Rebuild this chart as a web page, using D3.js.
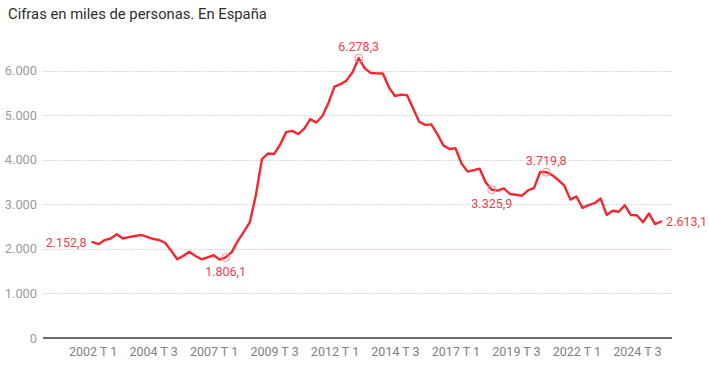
<!DOCTYPE html>
<html>
<head>
<meta charset="utf-8">
<script src="https://cdn.jsdelivr.net/npm/d3@7"></script>
<style>
  html, body { margin: 0; padding: 0; background: #fff; }
  body { width: 709px; height: 374px; overflow: hidden; font-family: Roboto, "Noto Sans", sans-serif; }
</style>
</head>
<body>
<div id="chart"></div>
<script>
// Parados EPA, miles de personas (2002 T 1 - 2025 T 3)
const quarters = [
  "2002 T 1", "2002 T 2", "2002 T 3", "2002 T 4",
  "2003 T 1", "2003 T 2", "2003 T 3", "2003 T 4",
  "2004 T 1", "2004 T 2", "2004 T 3", "2004 T 4",
  "2005 T 1", "2005 T 2", "2005 T 3", "2005 T 4",
  "2006 T 1", "2006 T 2", "2006 T 3", "2006 T 4",
  "2007 T 1", "2007 T 2", "2007 T 3", "2007 T 4",
  "2008 T 1", "2008 T 2", "2008 T 3", "2008 T 4",
  "2009 T 1", "2009 T 2", "2009 T 3", "2009 T 4",
  "2010 T 1", "2010 T 2", "2010 T 3", "2010 T 4",
  "2011 T 1", "2011 T 2", "2011 T 3", "2011 T 4",
  "2012 T 1", "2012 T 2", "2012 T 3", "2012 T 4",
  "2013 T 1", "2013 T 2", "2013 T 3", "2013 T 4",
  "2014 T 1", "2014 T 2", "2014 T 3", "2014 T 4",
  "2015 T 1", "2015 T 2", "2015 T 3", "2015 T 4",
  "2016 T 1", "2016 T 2", "2016 T 3", "2016 T 4",
  "2017 T 1", "2017 T 2", "2017 T 3", "2017 T 4",
  "2018 T 1", "2018 T 2", "2018 T 3", "2018 T 4",
  "2019 T 1", "2019 T 2", "2019 T 3", "2019 T 4",
  "2020 T 1", "2020 T 2", "2020 T 3", "2020 T 4",
  "2021 T 1", "2021 T 2", "2021 T 3", "2021 T 4",
  "2022 T 1", "2022 T 2", "2022 T 3", "2022 T 4",
  "2023 T 1", "2023 T 2", "2023 T 3", "2023 T 4",
  "2024 T 1", "2024 T 2", "2024 T 3", "2024 T 4",
  "2025 T 1", "2025 T 2", "2025 T 3"
];

const values = [
  2152.8, 2103.3, 2196.0, 2232.4,
  2328.5, 2232.4, 2261.8, 2287.6,
  2313.3, 2268.9, 2224.2, 2197.3,
  2136.6, 1959.3, 1765.0, 1841.3,
  1935.8, 1837.8, 1765.0, 1810.6,
  1856.1, 1760.0, 1806.1, 1927.6,
  2174.2, 2381.5, 2598.8, 3207.9,
  4010.7, 4137.5, 4123.3, 4335.0,
  4617.7, 4645.5, 4574.7, 4696.6,
  4910.2, 4833.7, 4978.3, 5273.6,
  5639.5, 5693.1, 5778.1, 5965.4,
  6278.3, 6047.3, 5943.4, 5935.6,
  5933.3, 5622.9, 5427.7, 5457.7,
  5444.6, 5149.0, 4850.8, 4779.5,
  4791.4, 4574.7, 4320.8, 4237.8,
  4255.0, 3914.3, 3731.7, 3766.7,
  3796.1, 3490.3, 3325.9, 3304.3,
  3354.2, 3230.6, 3214.4, 3191.9,
  3313.0, 3368.0, 3722.9, 3719.8,
  3653.9, 3543.8, 3416.7, 3103.8,
  3174.7, 2919.4, 2980.2, 3024.0,
  3127.8, 2760.5, 2855.2, 2830.6,
  2977.9, 2755.6, 2754.4, 2595.5,
  2791.4, 2554.3, 2613.1
];

const xTickLabels = ["2002 T 1", "2004 T 3", "2007 T 1", "2009 T 3", "2012 T 1",
  "2014 T 3", "2017 T 1", "2019 T 3", "2022 T 1", "2024 T 3"];
const yTicks = [0, 1000, 2000, 3000, 4000, 5000, 6000];

// annotated points: quarter, label side, circle or not
const annotations = [
  { q: "2002 T 1", pos: "left", dot: false },
  { q: "2007 T 3", pos: "below", dot: true },
  { q: "2013 T 1", pos: "above", dot: true },
  { q: "2018 T 3", pos: "below", dot: true },
  { q: "2020 T 4", pos: "above", dot: true },
  { q: "2025 T 3", pos: "right", dot: false }
];

const title = "Cifras en miles de personas. En España";

// Sizes
const width = 709;
const height = 374;
const marginLeft = 43;
const marginRight = 37;
const marginTop = 70.5;
const marginBottom = 36;
const lineColor = "#f4262f";
const labelColor = "#ee3d4b";

const locale = d3.formatLocale({ decimal: ",", thousands: ".", grouping: [3], currency: ["", " €"] });
const fmtTick = locale.format(",.0f");
const fmtVal = locale.format(",.1f");

const data = quarters.map((q, i) => ({ q, i, v: values[i] }));

// quarters before the first and after the last point kept as empty space
const x = d3.scaleLinear()
  .domain([-8.2, quarters.length - 1 + 1.8])
  .range([marginLeft, width - marginRight]);
const y = d3.scaleLinear()
  .domain([0, 6000])
  .range([height - marginBottom, marginTop]);

const svg = d3.select("#chart")
  .append("svg")
  .attr("width", width)
  .attr("height", height)
  .attr("viewBox", [0, 0, width, height])
  .style("font-family", "Roboto, sans-serif");

// Title
svg.append("text")
  .attr("x", 8)
  .attr("y", 19)
  .attr("fill", "#2e2e2e")
  .style("font-size", "14.8px")
  .text(title);

// Grid lines (dotted)
svg.append("g")
  .selectAll("line")
  .data(yTicks.filter(d => d > 0))
  .join("line")
  .attr("x1", marginLeft)
  .attr("x2", width - marginRight)
  .attr("y1", d => Math.round(y(d)) + 0.5)
  .attr("y2", d => Math.round(y(d)) + 0.5)
  .attr("stroke", "#cfcfcf")
  .attr("stroke-width", 1)
  .attr("stroke-dasharray", "1.5,1.5");

// faint reference segment along the 2.000 line
svg.append("line")
  .attr("x1", x(25.5))
  .attr("x2", width - marginRight)
  .attr("y1", Math.round(y(2000)) + 0.5)
  .attr("y2", Math.round(y(2000)) + 0.5)
  .attr("stroke", "#f7d4d9")
  .attr("stroke-width", 1.2);

// Y labels
svg.append("g")
  .selectAll("text")
  .data(yTicks)
  .join("text")
  .attr("x", 37)
  .attr("y", d => y(d))
  .attr("text-anchor", "end")
  .attr("dominant-baseline", "central")
  .attr("fill", "#9a9a9a")
  .style("font-size", "12.8px")
  .text(d => fmtTick(d));

// Baseline
svg.append("line")
  .attr("x1", marginLeft)
  .attr("x2", width - marginRight)
  .attr("y1", y(0))
  .attr("y2", y(0))
  .attr("stroke", "#6e6e6e")
  .attr("stroke-width", 2);

// X labels
const xAxis = d3.axisBottom(x)
  .tickValues(xTickLabels.map(l => quarters.indexOf(l)))
  .tickFormat(i => quarters[i])
  .tickSize(0)
  .tickPadding(9);

svg.append("g")
  .attr("transform", `translate(0,${y(0)})`)
  .call(xAxis)
  .call(g => g.select(".domain").remove())
  .selectAll("text")
  .attr("fill", "#808080")
  .style("font-family", "Roboto, sans-serif")
  .style("font-size", "12.5px");

// Line
const line = d3.line()
  .x(d => x(d.i))
  .y(d => y(d.v))
  .curve(d3.curveLinear);

svg.append("path")
  .datum(data)
  .attr("fill", "none")
  .attr("stroke", lineColor)
  .attr("stroke-width", 2.4)
  .attr("stroke-linejoin", "round")
  .attr("stroke-linecap", "round")
  .attr("d", line);

// Annotations
const ann = annotations.map(a => {
  const i = quarters.indexOf(a.q);
  return { ...a, i, v: values[i] };
});

svg.append("g")
  .selectAll("circle")
  .data(ann.filter(a => a.dot))
  .join("circle")
  .attr("cx", d => x(d.i))
  .attr("cy", d => y(d.v))
  .attr("r", 4)
  .attr("fill", "none")
  .attr("stroke", "#f08a93")
  .attr("stroke-width", 1);

svg.append("g")
  .selectAll("text")
  .data(ann)
  .join("text")
  .attr("x", d => d.pos === "left" ? x(d.i) - 6 : d.pos === "right" ? x(d.i) + 5 : x(d.i))
  .attr("y", d => d.pos === "above" ? y(d.v) - 12 : d.pos === "below" ? y(d.v) + 14 : y(d.v))
  .attr("text-anchor", d => d.pos === "left" ? "end" : d.pos === "right" ? "start" : "middle")
  .attr("dominant-baseline", "central")
  .attr("fill", labelColor)
  .style("font-size", "12.5px")
  .text(d => fmtVal(d.v));
</script>
</body>
</html>
